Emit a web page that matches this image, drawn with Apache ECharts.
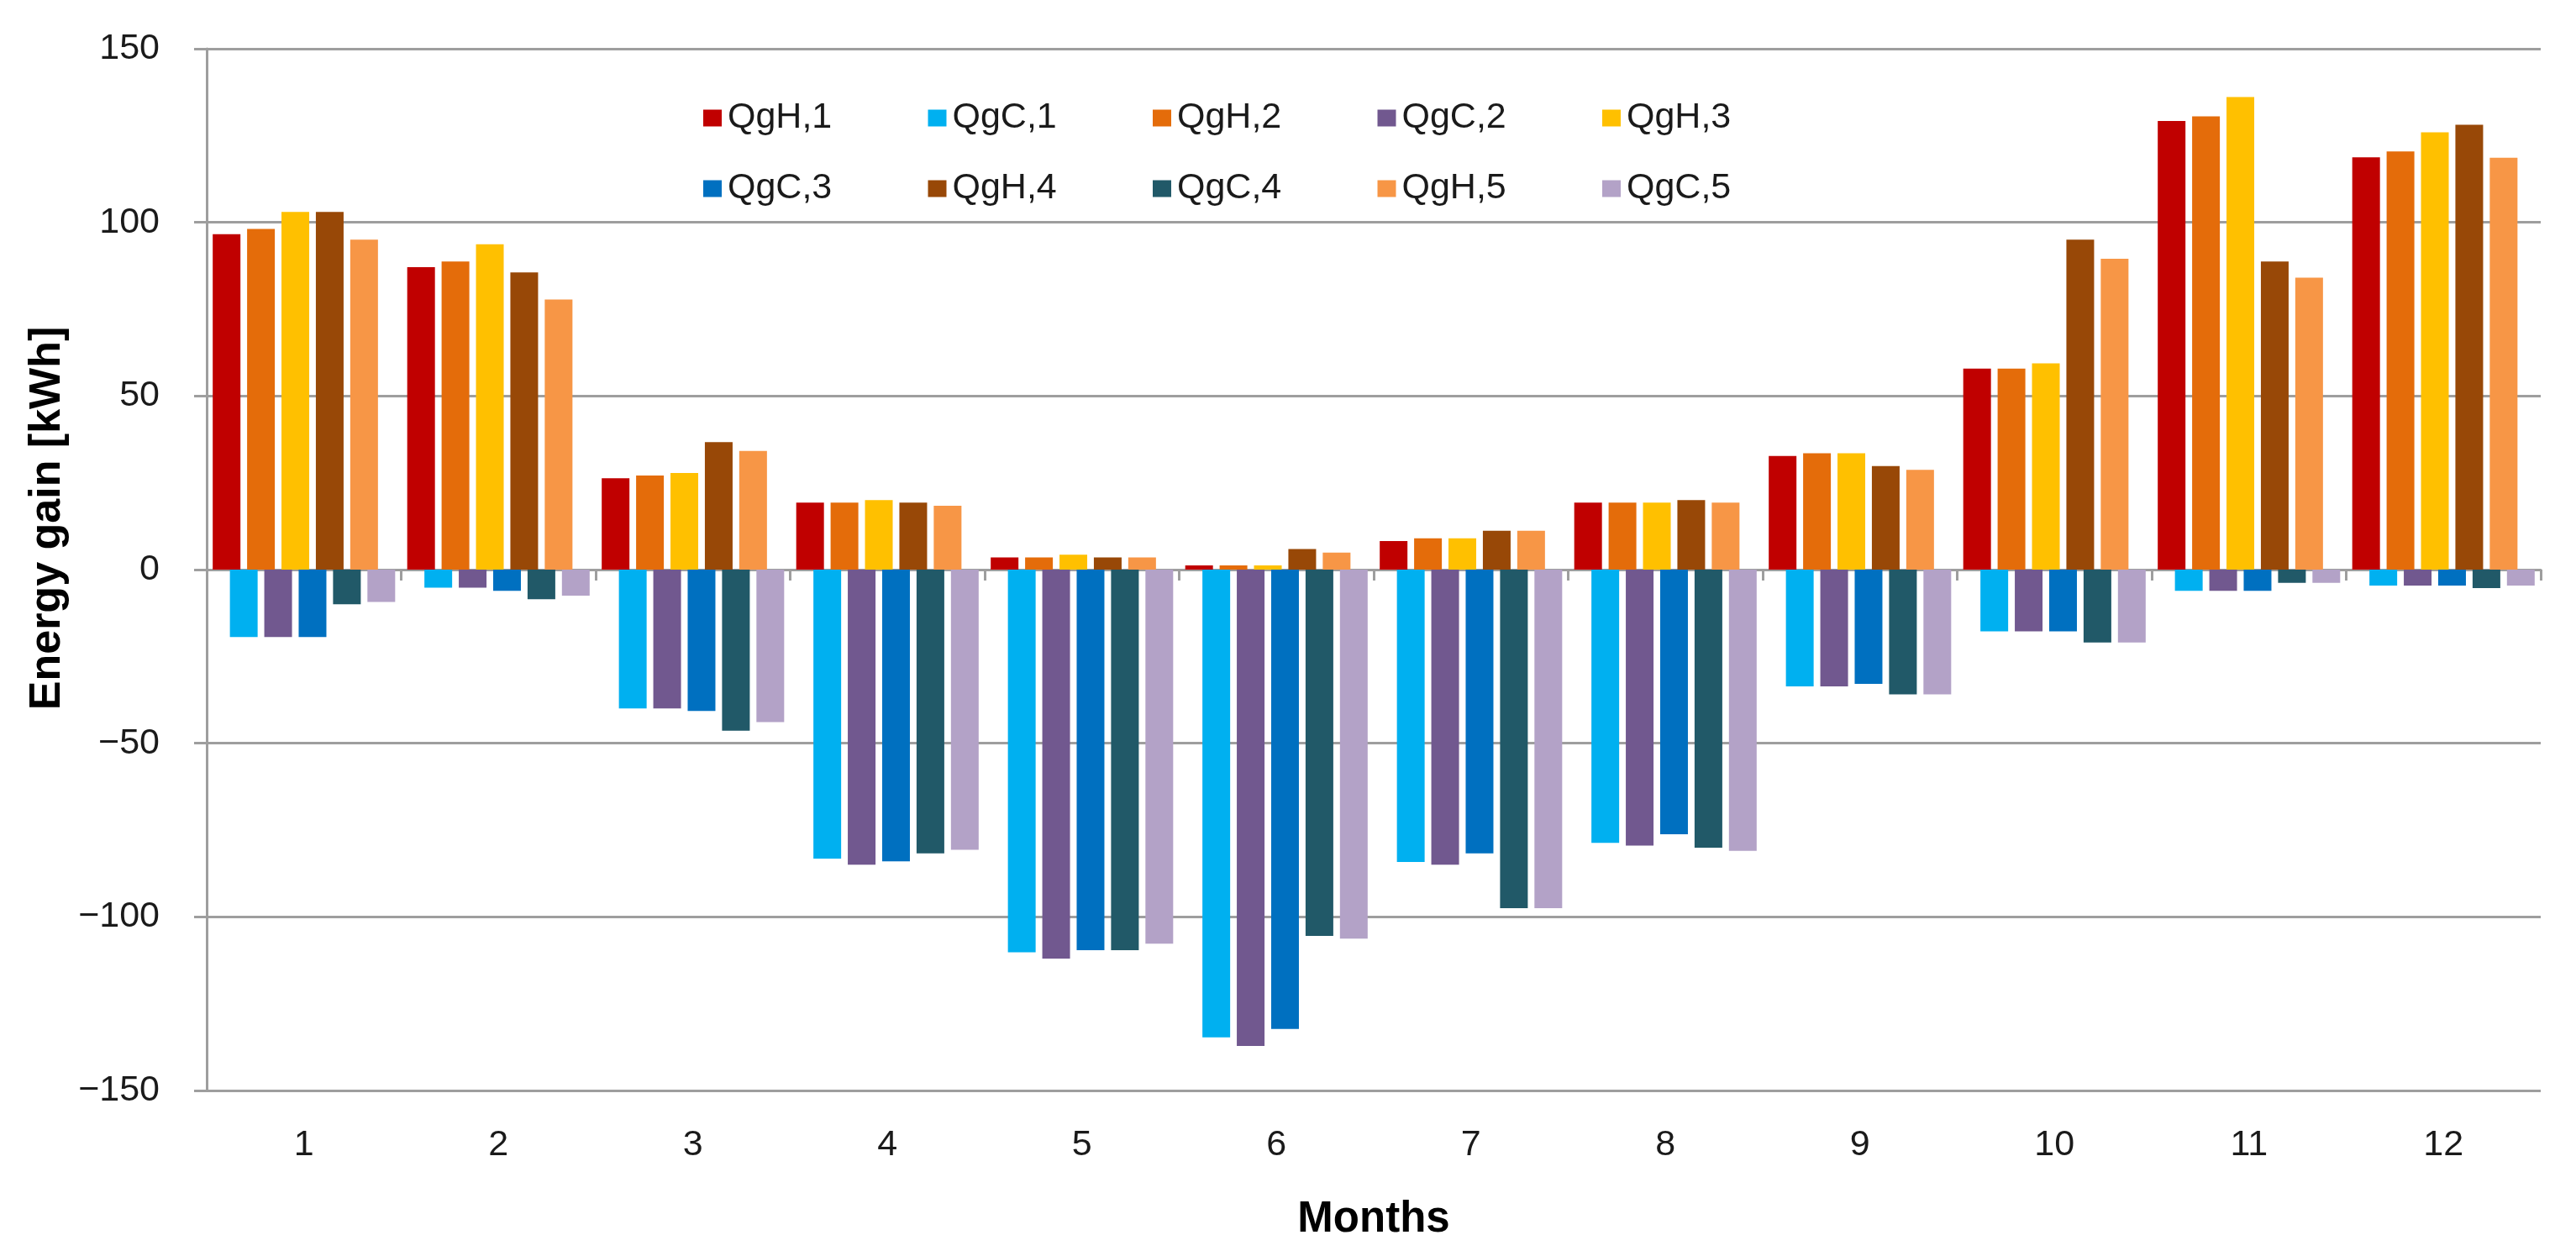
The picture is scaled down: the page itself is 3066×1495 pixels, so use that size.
<!DOCTYPE html>
<html>
<head>
<meta charset="utf-8">
<script src="https://cdn.jsdelivr.net/npm/echarts@6/dist/echarts.min.js"></script>
<style>
html,body{margin:0;padding:0;background:#fff;}
#chart{width:3066px;height:1495px;}
</style>
</head>
<body>
<div id="chart"></div>
<script>
const months = ['1','2','3','4','5','6','7','8','9','10','11','12'];
const seriesNames = ['QgH,1','QgC,1','QgH,2','QgC,2','QgH,3','QgC,3','QgH,4','QgC,4','QgH,5','QgC,5'];
const QgH1 = [96.6, 87.1, 26.3, 19.3, 3.5, 1.2, 8.2, 19.3, 32.7, 57.9, 129.2, 118.7];
const QgC1 = [-19.4, -5.2, -40.0, -83.2, -110.2, -134.7, -84.2, -78.7, -33.6, -17.8, -6.1, -4.6];
const QgH2 = [98.1, 88.7, 27.1, 19.3, 3.5, 1.2, 9.0, 19.3, 33.5, 57.9, 130.5, 120.4];
const QgC2 = [-19.4, -5.2, -40.0, -85.0, -112.0, -137.2, -85.0, -79.5, -33.6, -17.8, -6.1, -4.6];
const QgH3 = [103.0, 93.7, 27.8, 20.0, 4.3, 1.2, 9.0, 19.3, 33.5, 59.4, 136.1, 125.9];
const QgC3 = [-19.4, -6.1, -40.7, -84.0, -109.6, -132.3, -81.7, -76.2, -32.9, -17.8, -6.1, -4.6];
const QgH4 = [103.0, 85.6, 36.7, 19.3, 3.5, 5.9, 11.2, 20.0, 29.8, 95.0, 88.7, 128.1];
const QgC4 = [-10.0, -8.5, -46.4, -81.7, -109.6, -105.5, -97.5, -80.1, -35.9, -21.0, -3.8, -5.3];
const QgH5 = [95.0, 77.8, 34.2, 18.4, 3.5, 4.9, 11.2, 19.3, 28.7, 89.5, 84.1, 118.6];
const QgC5 = [-9.3, -7.5, -43.9, -80.7, -107.7, -106.3, -97.5, -81.0, -35.9, -21.0, -3.8, -4.6];
const yTicks = {min: -150, max: 150, interval: 50};

const seriesData = [QgH1, QgC1, QgH2, QgC2, QgH3, QgC3, QgH4, QgC4, QgH5, QgC5];
const colors = ['#C00000','#00B0F0','#E46C0A','#71588F','#FFC000','#0070C0','#984807','#215968','#F79646','#B3A2C7'];

const FONT = "'Liberation Sans', Arial, Helvetica, sans-serif";
const TXT = '#1a1a1a';
const GRIDC = '#9e9e9e';

const chart = echarts.init(document.getElementById('chart'), null, {renderer: 'canvas'});

const legends = seriesNames.map((n, i) => ({
  data: [n],
  orient: 'horizontal',
  left: 837 + (i % 5) * 267.5,
  top: 119 + Math.floor(i / 5) * 84,
  padding: 0,
  itemWidth: 22,
  itemHeight: 20,
  icon: 'rect',
  selectedMode: false,
  textStyle: {fontFamily: FONT, fontSize: 43, color: TXT, padding: [0, 0, 0, 2]}
}));

const option = {
  backgroundColor: '#ffffff',
  animation: false,
  color: colors,
  textStyle: {fontFamily: FONT},
  legend: legends,
  grid: {left: 246, right: 42, top: 58, bottom: 197, containLabel: false, outerBoundsMode: 'none'},
  xAxis: [
    {
      type: 'category',
      data: months,
      position: 'bottom',
      axisLine: {show: false, onZero: false},
      axisTick: {show: false},
      splitLine: {show: false},
      axisLabel: {fontFamily: FONT, fontSize: 43, color: TXT, margin: 44},
      name: 'Months',
      nameLocation: 'middle',
      nameGap: 128,
      nameTextStyle: {fontFamily: FONT, fontSize: 51, fontWeight: 'bold', color: '#000'}
    },
    {
      type: 'category',
      data: months,
      position: 'bottom',
      axisLine: {show: true, onZero: true, lineStyle: {color: GRIDC, width: 3}},
      axisTick: {show: true, length: 13, interval: 0, alignWithLabel: false, lineStyle: {color: GRIDC, width: 3}},
      axisLabel: {show: false},
      splitLine: {show: false}
    }
  ],
  yAxis: {
    type: 'value',
    min: yTicks.min,
    max: yTicks.max,
    interval: yTicks.interval,
    axisLine: {show: true, onZero: false, lineStyle: {color: GRIDC, width: 3}},
    axisTick: {show: true, length: 15, lineStyle: {color: GRIDC, width: 3}},
    splitLine: {show: true, lineStyle: {color: GRIDC, width: 3}},
    axisLabel: {
      fontFamily: FONT, fontSize: 43, color: TXT, margin: 56,
      formatter: v => (v < 0 ? '\u2212' + Math.abs(v) : String(v))
    },
    name: 'Energy gain [kWh]',
    nameLocation: 'middle',
    nameRotate: 90,
    nameGap: 160,
    nameTextStyle: {fontFamily: FONT, fontSize: 52, fontWeight: 'bold', color: '#000', padding: [0, 0, 0, 122]}
  },
  series: seriesNames.map((n, i) => ({
    name: n,
    type: 'bar',
    xAxisIndex: 0,
    data: seriesData[i],
    barWidth: 33,
    barGap: '-38%',
    itemStyle: {color: colors[i]},
    emphasis: {disabled: true}
  }))
};
chart.setOption(option);
</script>
</body>
</html>
